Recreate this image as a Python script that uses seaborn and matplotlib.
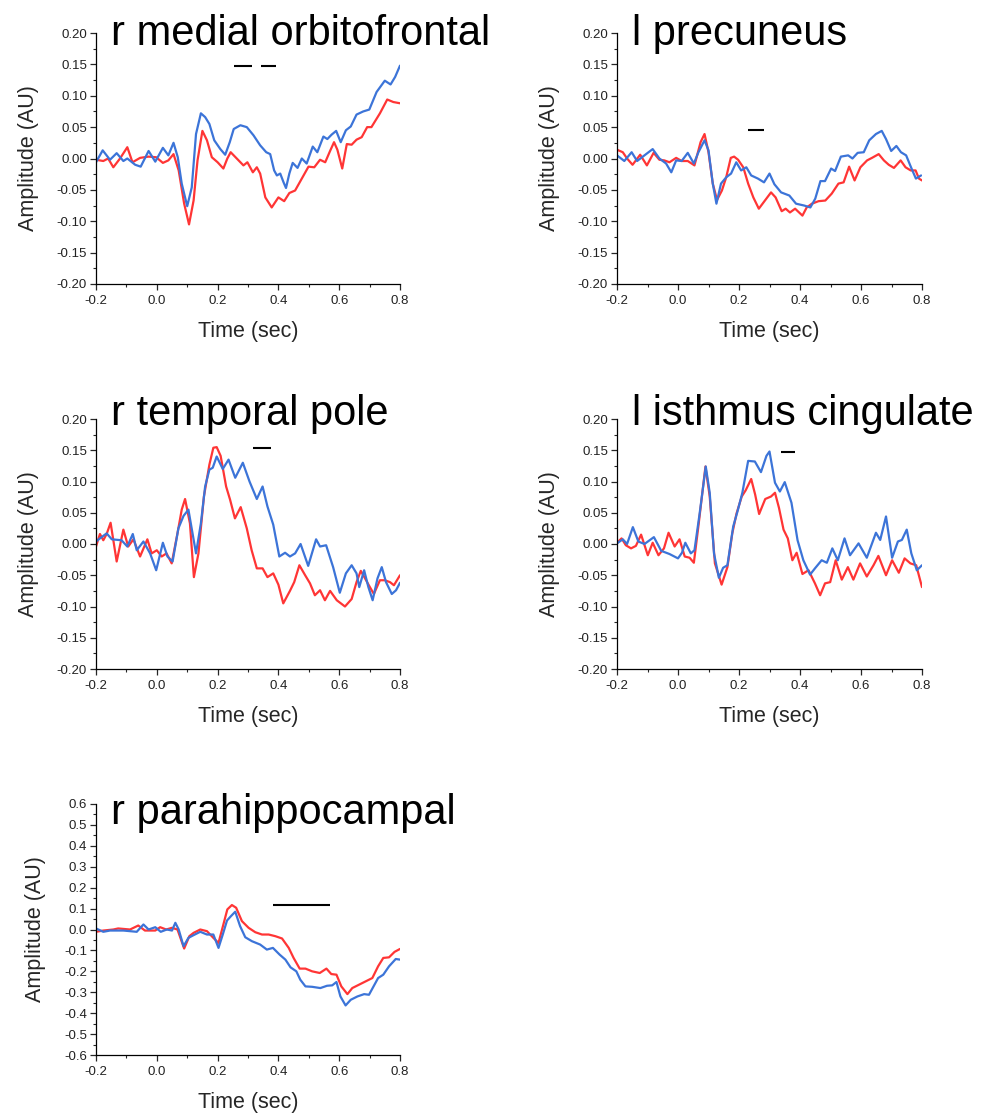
import numpy as np
import matplotlib
matplotlib.use("agg")
import matplotlib.pyplot as plt
from matplotlib.ticker import AutoMinorLocator
import seaborn as sns

# (time in sec, amplitude)
mof_blue = [(-0.2, -0.006), (-0.178, 0.013), (-0.154, -0.002), (-0.132, 0.0085), (-0.11, -0.004),
            (-0.097, 0.0), (-0.071, -0.01), (-0.053, -0.013), (-0.027, 0.012), (-0.005, -0.005),
            (0.02, 0.017), (0.038, 0.005), (0.055, 0.025), (0.069, 0.002), (0.082, -0.04),
            (0.1, -0.076), (0.115, -0.046), (0.129, 0.039), (0.145, 0.072), (0.159, 0.066),
            (0.173, 0.055), (0.189, 0.029), (0.209, 0.015), (0.225, 0.006), (0.24, 0.026),
            (0.253, 0.047), (0.275, 0.053), (0.296, 0.05), (0.318, 0.037), (0.34, 0.021),
            (0.36, 0.01), (0.373, 0.007), (0.386, -0.019), (0.395, -0.027), (0.406, -0.024),
            (0.417, -0.038), (0.425, -0.047), (0.436, -0.024), (0.447, -0.007), (0.463, -0.015),
            (0.477, 0.0), (0.493, -0.008), (0.513, 0.019), (0.528, 0.01), (0.548, 0.035),
            (0.561, 0.031), (0.575, 0.038), (0.59, 0.044), (0.605, 0.026), (0.622, 0.045),
            (0.638, 0.051), (0.657, 0.07), (0.679, 0.075), (0.699, 0.078), (0.723, 0.106),
            (0.75, 0.124), (0.769, 0.118), (0.784, 0.13), (0.8, 0.148)]
mof_red = [(-0.2, -0.002), (-0.176, -0.004), (-0.16, 0.0), (-0.143, -0.014), (-0.121, 0.0),
           (-0.097, 0.018), (-0.08, -0.006), (-0.055, 0.001), (-0.027, 0.003), (-0.002, 0.002),
           (0.02, -0.007), (0.038, -0.003), (0.055, 0.007), (0.072, -0.019), (0.09, -0.072),
           (0.106, -0.105), (0.121, -0.067), (0.134, -0.003), (0.15, 0.044), (0.165, 0.029),
           (0.181, 0.002), (0.2, -0.006), (0.219, -0.016), (0.232, 0.0), (0.243, 0.01),
           (0.263, 0.0), (0.285, -0.011), (0.298, -0.006), (0.316, -0.022), (0.329, -0.014),
           (0.34, -0.024), (0.357, -0.062), (0.378, -0.078), (0.4, -0.062), (0.419, -0.068),
           (0.436, -0.055), (0.455, -0.051), (0.477, -0.032), (0.499, -0.013), (0.518, -0.014),
           (0.537, -0.002), (0.554, -0.006), (0.57, 0.012), (0.583, 0.026), (0.594, 0.014),
           (0.61, -0.016), (0.625, 0.023), (0.641, 0.022), (0.657, 0.03), (0.674, 0.034),
           (0.692, 0.05), (0.706, 0.05), (0.734, 0.072), (0.758, 0.094), (0.778, 0.09), (0.8, 0.088)]

prec_blue = [(-0.2, 0.005), (-0.176, -0.004), (-0.152, 0.01), (-0.134, -0.004), (-0.11, 0.005),
             (-0.083, 0.015), (-0.061, 0.0), (-0.039, -0.008), (-0.022, -0.022), (-0.006, -0.003),
             (0.012, -0.004), (0.032, 0.009), (0.052, -0.008), (0.067, 0.01), (0.087, 0.029),
             (0.1, 0.013), (0.114, -0.04), (0.126, -0.072), (0.141, -0.04), (0.158, -0.03),
             (0.174, -0.024), (0.191, -0.006), (0.207, -0.019), (0.224, -0.014), (0.24, -0.027),
             (0.262, -0.032), (0.282, -0.038), (0.3, -0.024), (0.316, -0.041), (0.338, -0.054),
             (0.365, -0.059), (0.387, -0.072), (0.414, -0.075), (0.434, -0.078), (0.45, -0.064),
             (0.467, -0.036), (0.482, -0.036), (0.502, -0.016), (0.515, -0.02), (0.534, 0.003),
             (0.558, 0.005), (0.572, 0.0), (0.589, 0.009), (0.609, 0.01), (0.627, 0.029),
             (0.649, 0.039), (0.668, 0.044), (0.682, 0.031), (0.699, 0.012), (0.716, 0.02),
             (0.731, 0.01), (0.748, 0.005), (0.764, -0.014), (0.78, -0.032), (0.797, -0.027)]
prec_red = [(-0.2, 0.014), (-0.181, 0.01), (-0.167, 0.0), (-0.149, -0.01), (-0.124, 0.006),
            (-0.102, -0.011), (-0.08, 0.009), (-0.061, -0.002), (-0.045, -0.003), (-0.028, -0.006),
            (-0.006, 0.001), (0.012, -0.004), (0.032, -0.004), (0.054, -0.011), (0.074, 0.026),
            (0.087, 0.039), (0.1, 0.01), (0.114, -0.04), (0.128, -0.066), (0.144, -0.051),
            (0.158, -0.03), (0.173, 0.001), (0.184, 0.003), (0.197, -0.002), (0.214, -0.014),
            (0.23, -0.04), (0.247, -0.062), (0.265, -0.08), (0.285, -0.067), (0.305, -0.054),
            (0.32, -0.062), (0.34, -0.084), (0.353, -0.08), (0.367, -0.086), (0.384, -0.08),
            (0.397, -0.086), (0.408, -0.091), (0.422, -0.078), (0.439, -0.072), (0.461, -0.068),
            (0.483, -0.067), (0.504, -0.056), (0.526, -0.04), (0.543, -0.038), (0.561, -0.013),
            (0.579, -0.035), (0.598, -0.014), (0.62, -0.003), (0.636, 0.001), (0.658, 0.007),
            (0.675, -0.003), (0.691, -0.01), (0.708, -0.015), (0.73, -0.003), (0.746, -0.014),
            (0.763, -0.019), (0.779, -0.019), (0.79, -0.032), (0.8, -0.035)]

tpole_blue = [(-0.2, 0.004), (-0.187, 0.009), (-0.165, 0.017), (-0.148, 0.0075), (-0.116, 0.006),
              (-0.097, -0.004), (-0.079, 0.016), (-0.066, -0.01), (-0.044, 0.004), (-0.022, -0.015),
              (-0.002, -0.042), (0.02, 0.002), (0.035, -0.02), (0.052, -0.028), (0.071, 0.025),
              (0.088, 0.045), (0.104, 0.055), (0.129, -0.015), (0.145, 0.033), (0.159, 0.092),
              (0.173, 0.119), (0.184, 0.122), (0.197, 0.14), (0.217, 0.12), (0.236, 0.135),
              (0.258, 0.106), (0.283, 0.13), (0.305, 0.1), (0.329, 0.072), (0.348, 0.092),
              (0.364, 0.06), (0.383, 0.031), (0.403, -0.02), (0.422, -0.014), (0.438, -0.02),
              (0.455, -0.015), (0.473, 0.0), (0.498, -0.035), (0.524, 0.0075), (0.537, -0.004),
              (0.557, -0.002), (0.58, -0.037), (0.602, -0.078), (0.622, -0.047), (0.641, -0.034),
              (0.657, -0.047), (0.666, -0.069), (0.682, -0.042), (0.696, -0.069), (0.71, -0.09),
              (0.726, -0.055), (0.74, -0.037), (0.754, -0.061), (0.773, -0.08), (0.787, -0.074),
              (0.8, -0.062)]
tpole_red = [(-0.2, -0.004), (-0.187, 0.016), (-0.176, 0.006), (-0.165, 0.016), (-0.152, 0.034),
             (-0.132, -0.028), (-0.11, 0.023), (-0.094, -0.004), (-0.077, 0.0075), (-0.055, -0.02),
             (-0.031, 0.0075), (-0.017, -0.015), (0.0, -0.01), (0.016, -0.02), (0.032, -0.015),
             (0.049, -0.031), (0.068, 0.017), (0.082, 0.055), (0.093, 0.072), (0.109, 0.033),
             (0.122, -0.053), (0.137, -0.015), (0.155, 0.076), (0.173, 0.127), (0.186, 0.154),
             (0.197, 0.155), (0.21, 0.141), (0.228, 0.092), (0.241, 0.071), (0.257, 0.041),
             (0.276, 0.059), (0.296, 0.025), (0.312, -0.01), (0.329, -0.039), (0.348, -0.039),
             (0.364, -0.053), (0.383, -0.047), (0.4, -0.065), (0.416, -0.095), (0.438, -0.075),
             (0.452, -0.061), (0.469, -0.034), (0.488, -0.05), (0.504, -0.063), (0.52, -0.082),
             (0.537, -0.074), (0.553, -0.09), (0.57, -0.075), (0.592, -0.09), (0.619, -0.1),
             (0.641, -0.088), (0.657, -0.061), (0.671, -0.043), (0.685, -0.055), (0.701, -0.069),
             (0.714, -0.08), (0.734, -0.058), (0.75, -0.058), (0.767, -0.061), (0.78, -0.066),
             (0.8, -0.05)]

isth_blue = [(-0.2, 0.001), (-0.181, 0.0075), (-0.167, 0.0), (-0.148, 0.027), (-0.13, 0.004),
             (-0.11, 0.0), (-0.079, 0.011), (-0.055, -0.011), (-0.028, -0.016), (0.0, -0.023),
             (0.013, -0.014), (0.024, 0.002), (0.042, -0.015), (0.054, -0.01), (0.071, 0.049),
             (0.091, 0.124), (0.104, 0.082), (0.118, -0.015), (0.134, -0.054), (0.148, -0.038),
             (0.162, -0.034), (0.181, 0.028), (0.195, 0.052), (0.211, 0.082), (0.23, 0.133),
             (0.252, 0.132), (0.272, 0.115), (0.29, 0.141), (0.3, 0.148), (0.318, 0.098),
             (0.334, 0.084), (0.35, 0.099), (0.372, 0.066), (0.392, 0.006), (0.411, -0.026),
             (0.433, -0.049), (0.449, -0.039), (0.471, -0.026), (0.488, -0.03), (0.506, -0.007),
             (0.524, -0.026), (0.546, 0.009), (0.564, -0.018), (0.592, 0.001), (0.619, -0.022),
             (0.649, 0.018), (0.663, 0.0065), (0.682, 0.044), (0.702, -0.022), (0.721, 0.004),
             (0.734, 0.0065), (0.75, 0.023), (0.765, -0.015), (0.783, -0.042), (0.8, -0.034)]
isth_red = [(-0.2, 0.002), (-0.185, 0.009), (-0.171, -0.002), (-0.154, -0.007), (-0.138, -0.003),
            (-0.121, 0.015), (-0.099, -0.018), (-0.083, 0.002), (-0.064, -0.018), (-0.046, -0.007),
            (-0.031, 0.018), (-0.011, -0.004), (0.005, 0.0075), (0.022, -0.02), (0.038, -0.022),
            (0.052, -0.03), (0.068, 0.033), (0.09, 0.124), (0.104, 0.076), (0.121, -0.031),
            (0.143, -0.065), (0.162, -0.037), (0.178, 0.017), (0.192, 0.049), (0.209, 0.076),
            (0.222, 0.086), (0.24, 0.104), (0.253, 0.079), (0.266, 0.048), (0.286, 0.072),
            (0.305, 0.076), (0.318, 0.082), (0.331, 0.058), (0.346, 0.023), (0.36, 0.009),
            (0.375, -0.026), (0.389, -0.014), (0.408, -0.048), (0.428, -0.042), (0.449, -0.063),
            (0.466, -0.082), (0.482, -0.063), (0.499, -0.061), (0.517, -0.026), (0.537, -0.057),
            (0.557, -0.037), (0.575, -0.057), (0.597, -0.031), (0.619, -0.052), (0.641, -0.034),
            (0.657, -0.019), (0.682, -0.05), (0.702, -0.026), (0.724, -0.046), (0.743, -0.023),
            (0.762, -0.031), (0.781, -0.034), (0.8, -0.069)]

phc_blue = [(-0.2, 0.005), (-0.176, -0.011), (-0.154, -0.005), (-0.11, -0.005), (-0.066, -0.011),
            (-0.044, 0.024), (-0.027, 0.0), (-0.005, 0.011), (0.013, -0.011), (0.033, 0.0),
            (0.05, -0.005), (0.061, 0.032), (0.072, 0.0), (0.088, -0.08), (0.104, -0.04),
            (0.121, -0.027), (0.143, -0.011), (0.165, -0.024), (0.186, -0.024), (0.203, -0.088),
            (0.217, -0.024), (0.231, 0.043), (0.244, 0.064), (0.258, 0.085), (0.274, 0.016),
            (0.291, -0.037), (0.313, -0.056), (0.34, -0.072), (0.362, -0.096), (0.382, -0.088),
            (0.404, -0.12), (0.423, -0.144), (0.44, -0.181), (0.459, -0.2), (0.472, -0.24),
            (0.489, -0.272), (0.511, -0.274), (0.538, -0.28), (0.56, -0.269), (0.577, -0.267),
            (0.591, -0.251), (0.604, -0.32), (0.621, -0.363), (0.638, -0.336), (0.66, -0.32),
            (0.682, -0.309), (0.698, -0.312), (0.713, -0.272), (0.728, -0.232), (0.745, -0.216),
            (0.764, -0.176), (0.786, -0.141), (0.8, -0.144)]
phc_red = [(-0.2, -0.011), (-0.176, -0.005), (-0.143, 0.0), (-0.127, 0.005), (-0.088, 0.0),
           (-0.061, 0.019), (-0.039, -0.005), (-0.005, -0.005), (0.011, 0.011), (0.031, 0.0),
           (0.05, 0.008), (0.068, 0.0), (0.09, -0.091), (0.107, -0.032), (0.121, -0.016),
           (0.143, 0.0), (0.165, -0.008), (0.186, -0.04), (0.203, -0.064), (0.219, 0.024),
           (0.232, 0.096), (0.247, 0.117), (0.261, 0.104), (0.28, 0.04), (0.302, 0.008),
           (0.324, -0.013), (0.346, -0.024), (0.368, -0.024), (0.39, -0.032), (0.412, -0.043),
           (0.434, -0.088), (0.45, -0.136), (0.47, -0.187), (0.489, -0.187), (0.511, -0.2),
           (0.536, -0.208), (0.558, -0.187), (0.574, -0.213), (0.591, -0.216), (0.607, -0.272),
           (0.627, -0.309), (0.643, -0.28), (0.665, -0.264), (0.687, -0.248), (0.709, -0.232),
           (0.728, -0.176), (0.745, -0.136), (0.764, -0.133), (0.782, -0.107), (0.8, -0.093)]

# significance bars: (y level, [(start, end), ...])
mof_sig = (0.148, [(0.254, 0.313), (0.343, 0.392)])
prec_sig = (0.045, [(0.23, 0.282)])
tpole_sig = (0.154, [(0.316, 0.376)])
isth_sig = (0.147, [(0.338, 0.384)])
phc_sig = (0.117, [(0.382, 0.57)])

titles = ["r medial orbitofrontal", "l precuneus", "r temporal pole",
          "l isthmus cingulate", "r parahippocampal"]

RED = "#ff3535"
BLUE = "#3c74d8"

sns.set_style("ticks")
plt.rcParams["font.family"] = ["Liberation Sans", "DejaVu Sans"]

fig = plt.figure(figsize=(9.89, 11.2), dpi=100)

W, H = 989, 1120
# axes boxes in pixels: left, top, right, bottom
boxes = [(96, 33, 400, 284), (617, 33, 922, 284),
         (96, 419, 400, 669), (617, 419, 922, 669),
         (96, 804, 400, 1055)]
title_y = [0.952, 0.952, 0.976, 0.976, 0.92]
panels = [(mof_red, mof_blue, mof_sig), (prec_red, prec_blue, prec_sig),
          (tpole_red, tpole_blue, tpole_sig), (isth_red, isth_blue, isth_sig),
          (phc_red, phc_blue, phc_sig)]

for i, (red, blue, sig) in enumerate(panels):
    l, t, r, b = boxes[i]
    ax = fig.add_axes([l / W, 1 - b / H, (r - l) / W, (b - t) / H])
    for pts, col in ((red, RED), (blue, BLUE)):
        tt, vv = zip(*pts)
        sns.lineplot(x=list(tt), y=list(vv), ax=ax, color=col, lw=1.6,
                     estimator=None, sort=False, solid_joinstyle="round")
    ylev, segs = sig
    for s0, s1 in segs:
        ax.plot([s0, s1], [ylev, ylev], color="black", lw=1.5, solid_capstyle="butt")

    ax.set_xlim(-0.2, 0.8)
    xt = np.round(np.linspace(-0.2, 0.8, 6), 1) + 0.0
    ax.set_xticks(xt)
    ax.set_xticklabels([f"{v:.1f}" for v in xt])
    if i < 4:
        ax.set_ylim(-0.2, 0.2)
        yt = np.round(np.linspace(-0.2, 0.2, 9), 2) + 0.0
        ax.set_yticks(yt)
        ax.set_yticklabels([f"{v:.2f}" for v in yt])
    else:
        ax.set_ylim(-0.6, 0.6)
        yt = np.round(np.linspace(-0.6, 0.6, 13), 1) + 0.0
        ax.set_yticks(yt)
        ax.set_yticklabels([f"{v:.1f}" for v in yt])
    ax.xaxis.set_minor_locator(AutoMinorLocator(2))
    ax.yaxis.set_minor_locator(AutoMinorLocator(2))
    ax.tick_params(which="major", direction="out", length=4, width=0.9,
                   labelsize=9.5, labelcolor="#222222", pad=2.5)
    ax.tick_params(axis="x", which="major", pad=4)
    ax.tick_params(which="minor", direction="out", length=2.5, width=0.8)
    for side in ("top", "right"):
        ax.spines[side].set_visible(False)
    for side in ("left", "bottom"):
        ax.spines[side].set_linewidth(0.9)
        ax.spines[side].set_color("black")

    ax.set_xlabel("Time (sec)", fontsize=15.5, labelpad=10)
    ax.set_ylabel("Amplitude (AU)", fontsize=15.5, labelpad=13)
    ax.text(0.05, title_y[i], titles[i], transform=ax.transAxes,
            fontsize=30, ha="left", va="baseline", color="black")

fig.savefig("out.png", dpi=100)
